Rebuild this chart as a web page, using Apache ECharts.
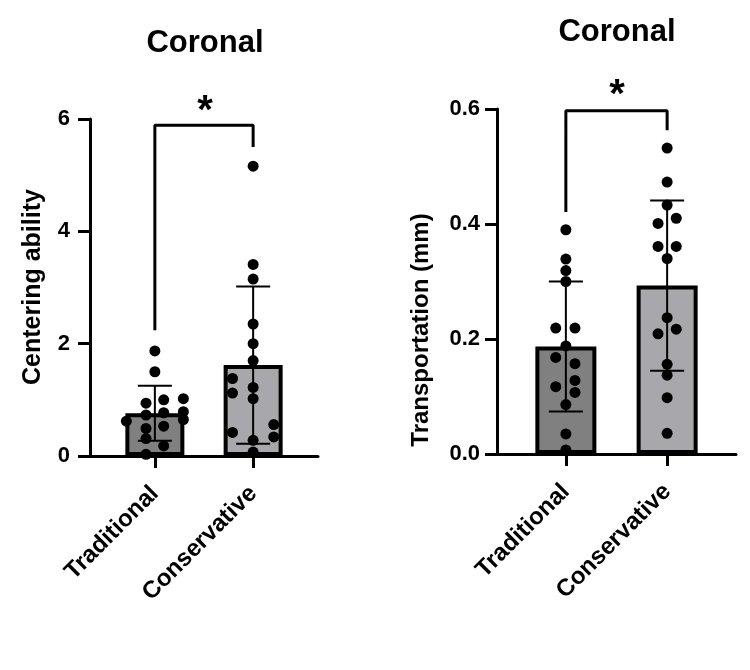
<!DOCTYPE html>
<html>
<head>
<meta charset="utf-8">
<script src="https://cdn.jsdelivr.net/npm/echarts@6/dist/echarts.min.js"></script>
<style>
  html, body { margin: 0; padding: 0; background: #fff; }
  #chart { width: 750px; height: 670px; }
</style>
</head>
<body>
<div id="chart"></div>
<script>
const groups = ['Traditional', 'Conservative'];
const fills = ['#808080', '#a8a8ac'];

// left panel: centering ability
const centerMean = [0.76, 1.62];
const centerSd = [0.49, 1.40];
const centerTrad = [1.87, 1.50, 0.94, 1.00, 1.02, 0.73, 0.77, 0.79, 0.62, 0.65, 0.49, 0.53, 0.31, 0.18, 0.03];
const centerTradJit = [0, 0, -0.09, 0.09, 0.29, -0.09, 0.09, 0.29, -0.29, 0.29, -0.09, 0.09, -0.09, 0.09, -0.09];
const centerCons = [5.16, 3.41, 3.15, 2.35, 2.00, 1.70, 1.38, 1.12, 1.22, 1.02, 0.42, 0.56, 0.34, 0.28, 0.07];
const centerConsJit = [0, 0, 0, 0, 0, 0, -0.21, -0.21, 0, 0, -0.21, 0.21, 0.21, 0, 0];
const centerBracket = [2.24, 5.89, 5.5];

// right panel: transportation (mm)
const transMean = [0.187, 0.293];
const transSd = [0.113, 0.148];
const transTrad = [0.390, 0.339, 0.319, 0.300, 0.219, 0.219, 0.188, 0.168, 0.157, 0.128, 0.117, 0.107, 0.086, 0.035, 0.007];
const transTradJit = [0, 0, 0, 0, -0.1, 0.09, 0, -0.1, 0.09, 0.09, -0.1, 0.09, 0, 0, 0];
const transCons = [0.532, 0.473, 0.433, 0.401, 0.410, 0.361, 0.361, 0.340, 0.237, 0.209, 0.217, 0.156, 0.137, 0.098, 0.036];
const transConsJit = [0, 0, 0, -0.09, 0.09, -0.09, 0.09, 0, 0, -0.09, 0.09, 0, 0, 0, 0];
const transBracket = [0.421, 0.597, 0.563];

const font = 'Liberation Sans, Arial, sans-serif';
let myChart = echarts.init(document.getElementById('chart'));

function xAxisFor(idx, min, max) {
  return {
    type: 'value', gridIndex: idx, min: min, max: max,
    splitLine: { show: false },
    axisLine: { onZero: false, lineStyle: { color: '#000', width: 3 } },
    axisTick: { customValues: [0, 1], length: 12, lineStyle: { color: '#000', width: 3 } },
    axisLabel: {
      customValues: [0, 1], rotate: 45, margin: 34,
      formatter: v => groups[v],
      color: '#000', fontFamily: font, fontWeight: 'bold', fontSize: 24
    }
  };
}

function yAxisFor(idx, max, interval, margin, digits) {
  return {
    type: 'value', gridIndex: idx, min: 0, max: max, interval: interval,
    splitLine: { show: false },
    axisLine: { show: true, onZero: false, lineStyle: { color: '#000', width: 3 } },
    axisTick: { show: true, length: 12, lineStyle: { color: '#000', width: 3 } },
    axisLabel: {
      margin: margin, color: '#000', fontFamily: font, fontWeight: 'bold', fontSize: 22,
      formatter: v => v.toFixed(digits)
    }
  };
}

function panel(idx, means, sds, trad, tradJit, cons, consJit, bracket, barW) {
  let dots = [];
  trad.forEach((v, i) => dots.push([0 + tradJit[i], v]));
  cons.forEach((v, i) => dots.push([1 + consJit[i], v]));
  return [
    {
      type: 'bar', xAxisIndex: idx, yAxisIndex: idx, barWidth: barW, z: 2,
      itemStyle: { borderColor: '#000', borderWidth: 4 },
      data: means.map((m, i) => ({ value: [i, m], itemStyle: { color: fills[i] } }))
    },
    {
      type: 'custom', xAxisIndex: idx, yAxisIndex: idx, z: 3,
      data: means.map((m, i) => [i, m - sds[i], m + sds[i]]),
      renderItem: function (params, api) {
        const lo = api.coord([api.value(0), api.value(1)]);
        const hi = api.coord([api.value(0), api.value(2)]);
        const h = 17;
        const st = { stroke: '#000', lineWidth: 2 };
        return {
          type: 'group', children: [
            { type: 'line', shape: { x1: lo[0], y1: lo[1], x2: hi[0], y2: hi[1] }, style: st },
            { type: 'line', shape: { x1: hi[0] - h, y1: hi[1], x2: hi[0] + h, y2: hi[1] }, style: st },
            { type: 'line', shape: { x1: lo[0] - h, y1: lo[1], x2: lo[0] + h, y2: lo[1] }, style: st }
          ]
        };
      }
    },
    {
      type: 'scatter', xAxisIndex: idx, yAxisIndex: idx, z: 4,
      symbolSize: 11, itemStyle: { color: '#000', opacity: 1 },
      data: dots
    },
    {
      type: 'line', xAxisIndex: idx, yAxisIndex: idx, z: 4,
      symbol: 'none', lineStyle: { color: '#000', width: 3 },
      data: [[0, bracket[0]], [0, bracket[1]], [1, bracket[1]], [1, bracket[2]]]
    }
  ];
}

let option = {
  animation: false,
  backgroundColor: '#fff',
  grid: [
    { left: 90, top: 119, width: 228, height: 337 },
    { left: 497, top: 109, width: 239, height: 345 }
  ],
  xAxis: [xAxisFor(0, -0.66, 1.66), xAxisFor(1, -0.68, 1.68)],
  yAxis: [yAxisFor(0, 6, 2, 20, 0), yAxisFor(1, 0.6, 0.2, 17, 1)],
  series: [].concat(
    panel(0, centerMean, centerSd, centerTrad, centerTradJit, centerCons, centerConsJit, centerBracket, 59),
    panel(1, transMean, transSd, transTrad, transTradJit, transCons, transConsJit, transBracket, 61)
  ),
  graphic: [
    { type: 'text', x: 205, y: 43.5, style: { text: 'Coronal', fill: '#000', font: 'bold 31px ' + font, textAlign: 'center', textVerticalAlign: 'middle' } },
    { type: 'text', x: 617, y: 32, style: { text: 'Coronal', fill: '#000', font: 'bold 31px ' + font, textAlign: 'center', textVerticalAlign: 'middle' } },
    { type: 'text', x: 205, y: 112, style: { text: '*', fill: '#000', font: 'bold 40px ' + font, textAlign: 'center', textVerticalAlign: 'middle' } },
    { type: 'text', x: 617, y: 96, style: { text: '*', fill: '#000', font: 'bold 40px ' + font, textAlign: 'center', textVerticalAlign: 'middle' } },
    { type: 'text', x: 33, y: 287, rotation: Math.PI / 2, style: { text: 'Centering ability', fill: '#000', font: 'bold 25px ' + font, textAlign: 'center', textVerticalAlign: 'middle' } },
    { type: 'text', x: 421, y: 330, rotation: Math.PI / 2, style: { text: 'Transportation (mm)', fill: '#000', font: 'bold 24px ' + font, textAlign: 'center', textVerticalAlign: 'middle' } }
  ]
};

myChart.setOption(option);
</script>
</body>
</html>
